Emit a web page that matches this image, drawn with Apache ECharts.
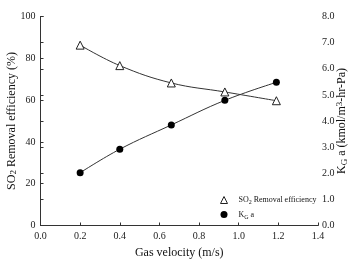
<!DOCTYPE html>
<html>
<head>
<meta charset="utf-8">
<script src="https://cdn.jsdelivr.net/npm/echarts@6/dist/echarts.min.js"></script>
<style>
html,body{margin:0;padding:0;background:#fff;}
#chart{width:359px;height:260px;}
</style>
</head>
<body>
<div id="chart"></div>
<script>
// gas velocity (m/s)
var velocity = [0.2, 0.4, 0.66, 0.93, 1.19];
// SO2 removal efficiency (%)
var removalEff = [86.3, 76.5, 68.2, 63.9, 59.7];
// KG a (kmol/m3-hr-Pa)
var kga = [2.02, 2.92, 3.85, 4.79, 5.48];

var serif = 'Liberation Serif';

function pairs(xs, ys) {
    var out = [];
    for (var i = 0; i < xs.length; i++) {
        out.push([xs[i], ys[i]]);
    }
    return out;
}
function subsup(size) {
    return {
        sub: {fontSize: size, fontFamily: serif, color: '#111', padding: [5, 0, 0, 0]},
        sup: {fontSize: size, fontFamily: serif, color: '#111', padding: [0, 0, 5, 0]}
    };
}

var chart = echarts.init(document.getElementById('chart'));
var option = {
    animation: false,
    textStyle: {fontFamily: serif},
    grid: {left: 40.5, right: 41, top: 16.5, bottom: 34.5, outerBoundsMode: 'none', containLabel: false},
    legend: {
        orient: 'vertical',
        left: 220,
        top: 196,
        padding: 0,
        itemWidth: 7,
        itemHeight: 7,
        itemGap: 5,
        data: [
            {name: 'SO2 Removal efficiency', icon: 'triangle',
             itemStyle: {color: '#fff', borderColor: '#222', borderWidth: 1}},
            {name: 'KG a', icon: 'circle'}
        ],
        formatter: function (n) {
            if (n == 'KG a') return 'K{sub|G} a';
            return 'SO{sub|2} Removal efficiency';
        },
        textStyle: {
            fontFamily: serif, fontSize: 8, color: '#111',
            padding: [0, 0, 0, 6],
            rich: subsup(6)
        }
    },
    xAxis: [{
        type: 'value',
        min: 0, max: 1.4, interval: 0.2,
        name: 'Gas velocity (m/s)',
        nameLocation: 'middle',
        nameGap: 21,
        nameMoveOverlap: false,
        nameTextStyle: {fontFamily: serif, fontSize: 12, color: '#111'},
        axisLine: {lineStyle: {color: '#333', width: 1}},
        axisTick: {inside: true, length: 3, lineStyle: {color: '#333'}},
        axisLabel: {
            fontFamily: serif, fontSize: 10, color: '#222', margin: 6,
            formatter: function (v) { return v.toFixed(1); }
        },
        splitLine: {show: false}
    }, {
        // top border of the frame
        type: 'value', position: 'top', min: 0, max: 1.4,
        axisLine: {show: true, lineStyle: {color: '#333', width: 1}},
        axisTick: {show: false}, axisLabel: {show: false}, splitLine: {show: false}
    }],
    yAxis: [
        {
            type: 'value',
            min: 0, max: 100, interval: 20,
            name: 'SO{sub|2} Removal efficiency (%)',
            nameLocation: 'middle',
            nameGap: 22,
            nameMoveOverlap: false,
            nameTextStyle: {fontFamily: serif, fontSize: 12, color: '#111', rich: subsup(9)},
            axisLine: {show: true, lineStyle: {color: '#333', width: 1}},
            axisTick: {show: true, inside: true, length: 3, lineStyle: {color: '#333'}},
            axisLabel: {fontFamily: serif, fontSize: 10, color: '#222', margin: 5},
            splitLine: {show: false}
        },
        {
            type: 'value',
            min: 0, max: 8, interval: 1,
            name: 'K{sub|G} a (kmol/m{sup|3}-hr-Pa)',
            nameLocation: 'middle',
            nameGap: 17,
            nameMoveOverlap: false,
            nameRotate: 90,
            nameTextStyle: {fontFamily: serif, fontSize: 12, color: '#111', rich: subsup(9)},
            axisLine: {show: true, lineStyle: {color: '#333', width: 1}},
            axisTick: {show: true, length: 3, lineStyle: {color: '#333'}},
            axisLabel: {
                fontFamily: serif, fontSize: 10, color: '#222', margin: 4,
                formatter: function (v) { return v.toFixed(1); }
            },
            splitLine: {show: false}
        }
    ],
    series: [
        {
            name: 'SO2 Removal efficiency',
            type: 'line',
            yAxisIndex: 0,
            smooth: 0.4,
            symbol: 'triangle',
            symbolSize: 8,
            lineStyle: {color: '#333', width: 1},
            itemStyle: {color: '#fff', borderColor: '#222', borderWidth: 1},
            data: pairs(velocity, removalEff)
        },
        {
            name: 'KG a',
            type: 'line',
            yAxisIndex: 1,
            smooth: 0.4,
            symbol: 'circle',
            symbolSize: 7,
            lineStyle: {color: '#333', width: 1},
            itemStyle: {color: '#000'},
            data: pairs(velocity, kga)
        }
    ]
};
chart.setOption(option);
</script>
</body>
</html>
